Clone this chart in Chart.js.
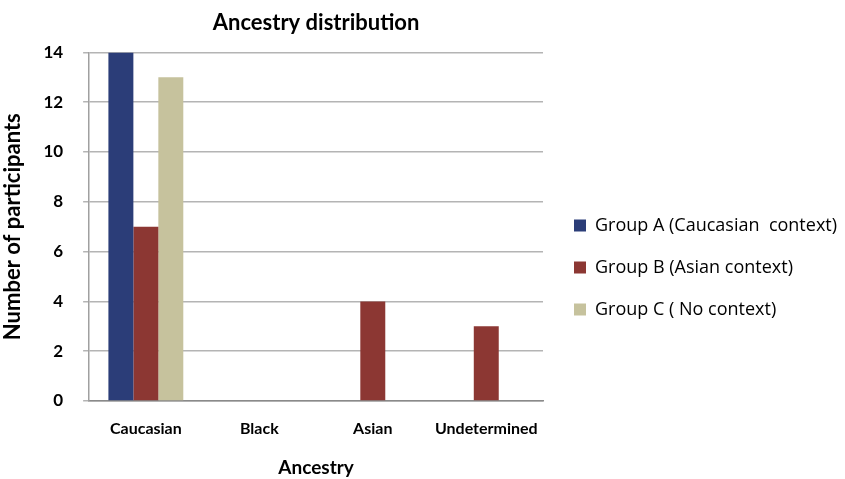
<!DOCTYPE html>
<html>
<head>
<meta charset="utf-8">
<script src="https://cdn.jsdelivr.net/npm/chart.js@4/dist/chart.umd.min.js"></script>
<style>
  html, body { margin: 0; padding: 0; background: #ffffff; }
  #wrap { width: 845px; height: 479px; }
</style>
</head>
<body>
<div id="wrap"><canvas id="c" width="845" height="479"></canvas></div>
<script>
// Ancestry categories and participant counts per group
const categories = ['Caucasian', 'Black', 'Asian', 'Undetermined'];
const groupA = [14, 0, 0, 0];
const groupB = [7, 0, 4, 3];
const groupC = [13, 0, 0, 0];
const seriesNames = ['Group A (Caucasian  context)', 'Group B (Asian context)', 'Group C ( No context)'];
const yTicks = [0, 2, 4, 6, 8, 10, 12, 14];

const boldFont = "Lato, 'Open Sans', sans-serif";

// Keeps the legend in its own column to the right of the plot
const legendPlacement = {
  id: 'legendPlacement',
  beforeInit(chart) {
    const legend = chart.legend;
    const fit = legend.fit;
    legend.fit = function () {
      fit.call(this);
      this.width = 302;
    };
  },
  afterLayout(chart) {
    const legend = chart.legend;
    const pad = legend.options.labels.padding;
    legend.left = 574 - pad;
    legend.top += 28;
    legend.bottom += 28;
  }
};

new Chart(document.getElementById('c'), {
  type: 'bar',
  data: {
    labels: categories,
    datasets: [
      { label: seriesNames[0], data: groupA, backgroundColor: '#2b3d78' },
      { label: seriesNames[1], data: groupB, backgroundColor: '#8c3733' },
      { label: seriesNames[2], data: groupC, backgroundColor: '#c6c29d' }
    ]
  },
  options: {
    responsive: false,
    animation: false,
    layout: { padding: { left: 0, right: 0, top: 0, bottom: 0 } },
    datasets: { bar: { categoryPercentage: 0.66, barPercentage: 1.0, borderWidth: 0 } },
    plugins: {
      title: {
        display: true,
        text: 'Ancestry distribution',
        fullSize: false,
        color: '#000',
        font: { family: boldFont, size: 22, weight: 'bold' },
        padding: { top: 10, bottom: 16 }
      },
      legend: {
        position: 'right',
        align: 'center',
        labels: {
          boxWidth: 12,
          boxHeight: 12,
          padding: 24,
          color: '#000',
          font: { family: "'Open Sans', sans-serif", size: 18 }
        }
      },
      tooltip: { enabled: false }
    },
    scales: {
      x: {
        grid: { display: false, drawTicks: false },
        border: { display: true, color: '#8a8a8a', width: 1.5 },
        ticks: {
          color: '#000',
          padding: 18,
          font: { family: boldFont, size: 16, weight: 'bold' }
        },
        title: {
          display: true,
          text: 'Ancestry',
          color: '#000',
          font: { family: boldFont, size: 19, weight: 'bold' },
          padding: { top: 0, bottom: 0 }
        }
      },
      y: {
        min: 0,
        max: 14,
        afterBuildTicks(scale) { scale.ticks = yTicks.map(v => ({ value: v })); },
        afterFit(scale) { scale.width -= 10; },
        grid: { color: '#b4b4b4', lineWidth: 1.5, tickLength: 6 },
        border: { display: true, color: '#a0a0a0', width: 1.5 },
        ticks: {
          color: '#000',
          padding: 20,
          font: { family: boldFont, size: 17, weight: 'bold' }
        },
        title: {
          display: true,
          text: 'Number of participants',
          color: '#000',
          font: { family: boldFont, size: 22, weight: 'bold' },
          padding: { top: 0, bottom: 7 }
        }
      }
    }
  },
  plugins: [legendPlacement]
});
</script>
</body>
</html>
